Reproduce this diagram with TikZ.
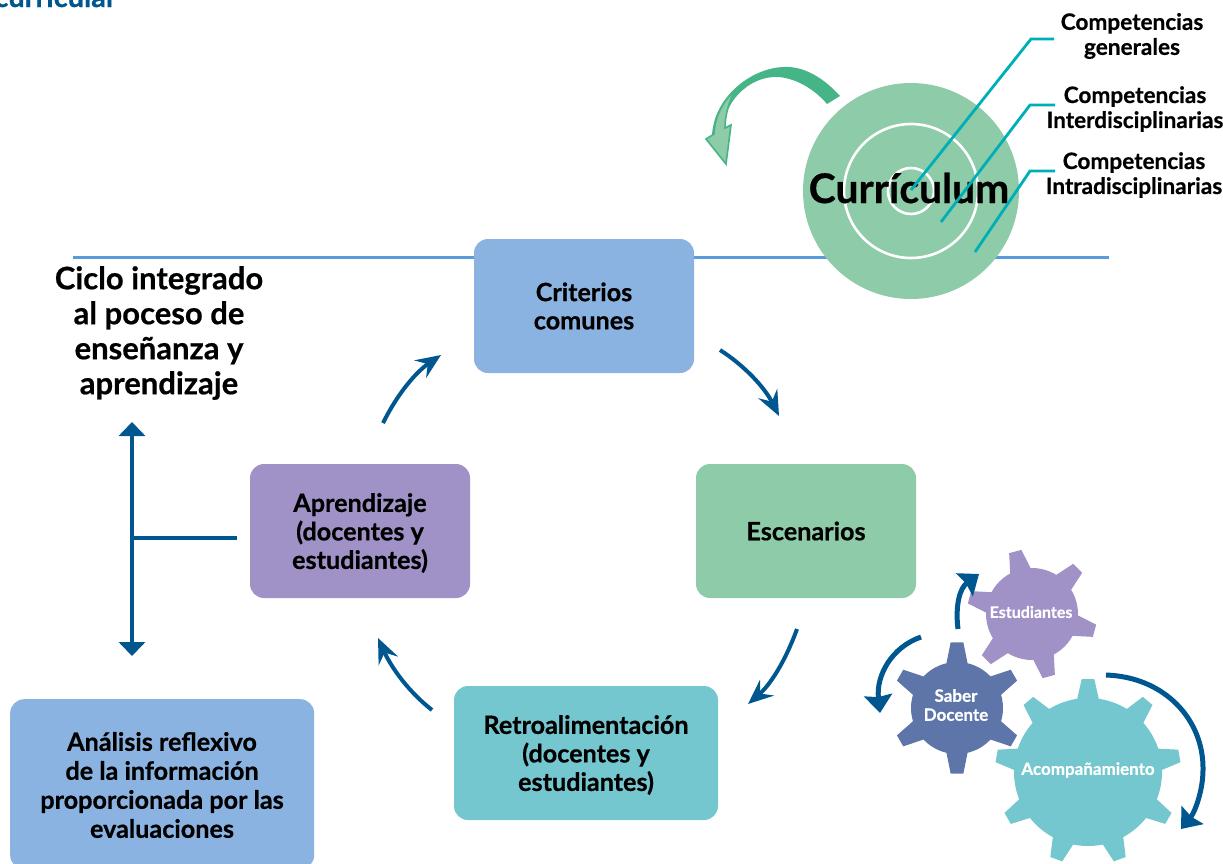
\documentclass[tikz,border=0pt]{standalone}
\usepackage{fontspec}
\setmainfont{Lato}[BoldFont={Lato Bold},BoldFeatures={FakeBold=0.6}]
\usetikzlibrary{arrows.meta,calc}
\definecolor{dblue}{HTML}{00568F}
\definecolor{lineblue}{HTML}{5B9BD9}
\definecolor{bluebox}{HTML}{8BB3E1}
\definecolor{greenbox}{HTML}{8ECBA8}
\definecolor{tealbox}{HTML}{74C6CF}
\definecolor{purplebox}{HTML}{A091C6}
\definecolor{gearblue}{HTML}{5E75AA}
\definecolor{darkgreen}{HTML}{45B487}
\definecolor{leader}{HTML}{00AEB8}
\newcommand{\fs}[1]{\fontsize{#1}{#1}\selectfont}
\tikzset{
 boxn/.style={rounded corners=14pt,align=center,font=\fs{25.2}\bfseries,inner sep=0pt,text=black},
 flow/.style={draw=dblue,line width=4pt,-{Stealth[length=25pt,width=21pt,inset=9pt]}},
 gearflow/.style={draw=dblue,line width=5pt,-{Stealth[length=18pt,width=28pt,inset=2pt]}},
 dbl/.style={draw=dblue,line width=4pt},
 lead/.style={draw=leader,line width=2.8pt},
 ring/.style={draw=white,line width=2.6pt},
 lab/.style={align=center,font=\fs{22.6}\bfseries,text=black,inner sep=0pt},
 geartxt/.style={align=center,font=\fs{17}\bfseries,text=white,inner sep=0pt}
}
% cx cy body outer teeth start colour
\newcommand{\gearshape}[7]{%
 \fill[#7] (#1,#2) circle[radius=#3];
 \pgfmathsetmacro{\stepang}{360/#5}
 \pgfmathsetmacro{\aa}{14.5*46/#3}
 \pgfmathsetmacro{\bb}{5.5*66/#4}
 \foreach \k in {1,...,#5}{
  \pgfmathsetmacro{\ang}{#6+(\k-1)*\stepang}
  \fill[#7] ({#1+(#3-2)*cos(\ang-\aa)},{#2-(#3-2)*sin(\ang-\aa)})
   -- ({#1+#4*cos(\ang-\bb)},{#2-#4*sin(\ang-\bb)})
   -- ({#1+#4*cos(\ang+\bb)},{#2-#4*sin(\ang+\bb)})
   -- ({#1+(#3-2)*cos(\ang+\aa)},{#2-(#3-2)*sin(\ang+\aa)}) -- cycle;
 }%
}
\begin{document}
\begin{tikzpicture}[x=1pt,y=-1pt]
\useasboundingbox (0,0) rectangle (1223,863);
\clip (0,0) rectangle (1223,863);
\node[anchor=base east,font=\fs{29}\bfseries,text=dblue,inner sep=0pt] (head) at (117,7) {curricular};

% horizontal line
\coordinate (hl) at (73,257); \coordinate (hr) at (1109,257);
\draw[draw=lineblue,line width=3pt] (hl) -- (hr);

% boxes
\node[boxn,fill=bluebox,minimum width=220pt,minimum height=134pt] (crit) at (584,306) {Criterios\\[3pt]comunes};
\node[boxn,fill=greenbox,minimum width=220pt,minimum height=134pt] (esc) at (806,531) {Escenarios};
\node[boxn,fill=purplebox,minimum width=220pt,minimum height=134pt] (apr) at (360,531) {};
\node[boxn] (aprt) at (360,533) {Aprendizaje\\[3.3pt](docentes y\\[3.3pt]estudiantes)};
\node[boxn,fill=tealbox,minimum width=264pt,minimum height=134pt] (ret) at (586,753) {};
\node[boxn] (rett) at (586,755) {Retroalimentación\\[3.3pt](docentes y\\[3.3pt]estudiantes)};
\node[boxn,fill=bluebox,minimum width=304pt,minimum height=170pt,anchor=north west] (ana) at (10,699) {};
\node[align=center,font=\fs{25.2}\bfseries,inner sep=0pt] (anat) at (162,785) {Análisis reflexivo\\[3.8pt]de la información\\[3.8pt]proporcionada por las\\[3.8pt]evaluaciones};

% flow arrows
\coordinate (a1) at (383,423); \coordinate (a1e) at (441,355);
\coordinate (a2) at (720,350); \coordinate (a2e) at (779,416);
\coordinate (a3) at (797,629); \coordinate (a3e) at (748,704);
\coordinate (a4) at (432,710); \coordinate (a4e) at (378,638);
\draw[flow] (a1) .. controls (398,393) and (416,372) .. (a1e);
\draw[flow] (a2) .. controls (745,366) and (765,388) .. (a2e);
\draw[flow] (a3) .. controls (785,662) and (770,685) .. (a3e);
\draw[flow] (a4) .. controls (410,693) and (392,669) .. (a4e);

% left arrows
\node[align=center,font=\fs{31}\bfseries,inner sep=0pt] (ciclo) at (159,333) {Ciclo integrado\\[4pt]al poceso de\\[4pt]enseñanza y\\[4pt]aprendizaje};
\coordinate (vt) at (132,422); \coordinate (vb) at (132,656); \coordinate (vm) at (132,538); \coordinate (vr) at (237,538);
\draw[dbl,{Triangle[length=14pt,width=26pt]}-{Triangle[length=14pt,width=26pt]}] (vt) -- (vb);
\draw[dbl] (vm) -- (vr);

% curriculum target
\node[circle,fill=greenbox,minimum size=216pt,inner sep=0pt] (tgt) at (911,191) {};
\draw[ring] (tgt.center) circle[radius=67];
\draw[ring] (tgt.center) circle[radius=23];
\node[font=\fs{40.8}\bfseries,inner sep=0pt] (curr) at (909,188) {Currículum};
\coordinate (l1a) at (1054,39); \coordinate (l1b) at (1031,39); \coordinate (l1c) at (911,190);
\coordinate (l2a) at (1055,105); \coordinate (l2b) at (1030,105); \coordinate (l2c) at (941,222);
\coordinate (l3a) at (1055,171); \coordinate (l3b) at (1030,171); \coordinate (l3c) at (975,252);
\draw[lead] (l1a) -- (l1b) -- (l1c);
\draw[lead] (l2a) -- (l2b) -- (l2c);
\draw[lead] (l3a) -- (l3b) -- (l3c);
\node[lab] (c1) at (1132,36) {Competencias\\[2.4pt]generales};
\node[lab] (c2) at (1135,109) {Competencias\\[2.4pt]Interdisciplinarias};
\node[lab] (c3) at (1134,175) {Competencias\\[2.4pt]Intradisciplinarias};

% green curved arrow
\fill[darkgreen] (840,96) .. controls (822,76) and (802,66) .. (784,67)
  .. controls (750,68) and (714,98) .. (712,135) -- (724,130)
  .. controls (722,105) and (748,75) .. (779,77)
  .. controls (798,79) and (815,90) .. (827,104) -- cycle;
\filldraw[fill=greenbox,draw=darkgreen,line width=1.6pt,line join=miter]
  (706,139) -- (714,134) .. controls (715,116) and (722,103) .. (735,90)
  .. controls (729,102) and (725,115) .. (725,128) -- (731,125) -- (726,164) -- cycle;

% gears
\gearshape{1032}{614}{46}{65}{6}{105}{purplebox}
\gearshape{957}{708}{46}{66}{6}{90}{gearblue}
\gearshape{1088}{772}{74}{93}{9}{90}{tealbox}
\node[geartxt,font=\fs{16}\bfseries] (g1) at (1031,612) {Estudiantes};
\node[geartxt] (g2) at (956,705) {Saber\\[2pt]Docente};
\node[geartxt] (g3) at (1088,770) {Acompañamiento};

% gear arrows
\coordinate (b1) at (958,629); \coordinate (b1e) at (979,574);
\coordinate (b2) at (921,637); \coordinate (b2e) at (880,713);
\coordinate (b3) at (1106,675); \coordinate (b3e) at (1181,829);
\draw[gearflow] (b1) .. controls (955,605) and (960,588) .. (b1e);
\draw[gearflow] (b2) .. controls (892,647) and (876,675) .. (b2e);
\draw[gearflow] (b3) .. controls (1165,677) and (1204,720) .. (1203,770) .. controls (1203,790) and (1195,812) .. (b3e);
\end{tikzpicture}
\end{document}
